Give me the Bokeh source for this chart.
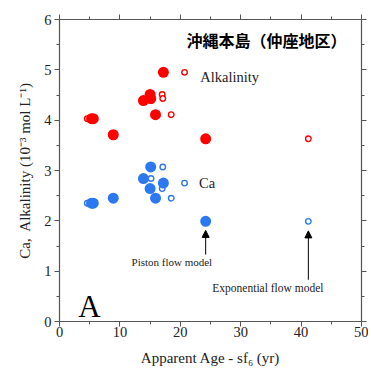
from bokeh.plotting import figure
from bokeh.models import (LinearAxis, Range1d, Arrow, NormalHead, Label, ColumnDataSource,
                          FixedTicker, CustomJSTickFormatter)
from bokeh.embed import file_html
from bokeh.resources import INLINE

# ---- data ----
piston_age = [17.2, 15.0, 15.1, 13.9, 15.9, 5.6, 5.3, 8.9, 24.2]
expo_age = [20.7, 17.0, 17.1, 15.15, 18.5, 4.6, 5.3, 8.9, 41.2]
ca = [2.75, 2.64, 3.07, 2.84, 2.45, 2.35, 2.35, 2.45, 1.99]
alk = [4.95, 4.51, 4.43, 4.39, 4.11, 4.03, 4.03, 3.71, 3.63]

x_ticks = [0, 10, 20, 30, 40, 50]
x_minor = [5, 15, 25, 35, 45]
y_ticks = [0, 1, 2, 3, 4, 5, 6]
y_minor = [0.5, 1.5, 2.5, 3.5, 4.5, 5.5]

RED = "#ff0000"
BLUE = "#2b78f0"
SERIF = "Liberation Serif"
AX = "#555555"

p = figure(width=368, height=368, output_backend="svg", toolbar_location=None,
           x_range=Range1d(0, 50), y_range=Range1d(0, 6),
           min_border_left=59, min_border_right=7, min_border_top=19, min_border_bottom=47)
p.outline_line_color = None
p.grid.visible = False


def style_axis(ax):
    ax.axis_line_color = AX
    ax.axis_line_width = 1.2
    ax.major_tick_line_color = AX
    ax.minor_tick_line_color = AX
    ax.major_tick_in = 0
    ax.major_tick_out = 5
    ax.minor_tick_in = 0
    ax.minor_tick_out = 3
    ax.major_label_text_font = SERIF
    ax.major_label_text_font_size = "14.5px"
    ax.major_label_text_color = "#222222"
    ax.axis_label_text_font = SERIF
    ax.axis_label_text_font_style = "normal"
    ax.axis_label_text_font_size = "15px"
    ax.axis_label_text_color = "#222222"


xa = p.xaxis[0]
ya = p.yaxis[0]
xa.ticker = FixedTicker(ticks=x_ticks, minor_ticks=x_minor)
ya.ticker = FixedTicker(ticks=y_ticks, minor_ticks=y_minor)
style_axis(xa)
style_axis(ya)
xa.axis_label = "Apparent Age - sf\u2086 (yr)"
ya.axis_label = "Ca,\u00a0 Alkalinity (10\u207b\u00b3 mol L\u207b\u00b9)"
xa.major_label_standoff = 0
ya.major_label_standoff = 3
xa.axis_label_standoff = 10
ya.axis_label_standoff = 8

blank = CustomJSTickFormatter(code="return '';")
top = LinearAxis(ticker=FixedTicker(ticks=x_ticks, minor_ticks=x_minor), formatter=blank)
right = LinearAxis(ticker=FixedTicker(ticks=y_ticks, minor_ticks=y_minor), formatter=blank)
style_axis(top)
style_axis(right)
top.major_label_standoff = 0
right.major_label_standoff = 0
p.add_layout(top, "above")
p.add_layout(right, "right")

# open circles (exponential flow model) first, then filled (piston flow model)
src = ColumnDataSource(dict(pa=piston_age, ea=expo_age, ca=ca, alk=alk))
p.scatter("ea", "alk", source=src, size=5.5, fill_color="white", line_color=RED, line_width=1.4)
p.scatter("ea", "ca", source=src, size=5.5, fill_color="white", line_color=BLUE, line_width=1.4)
p.scatter("pa", "alk", source=src, size=11, fill_color=RED, line_color=RED, line_width=0)
p.scatter("pa", "ca", source=src, size=11, fill_color=BLUE, line_color=BLUE, line_width=0)

# texts
p.add_layout(Label(x=47.5, y=5.59, text="沖縄本島（仲座地区）", text_font="Noto Sans CJK JP",
                   text_font_style="bold", text_font_size="16px", text_align="right",
                   text_baseline="middle", text_color="black"))
p.add_layout(Label(x=23.3, y=4.85, text="Alkalinity", text_font=SERIF, text_font_size="14.5px",
                   text_baseline="middle", text_color="#222222"))
p.add_layout(Label(x=23.1, y=2.75, text="Ca", text_font=SERIF, text_font_size="14.5px",
                   text_baseline="middle", text_color="#222222"))
p.add_layout(Label(x=3.1, y=0.29, text="A", text_font=SERIF, text_font_size="31px",
                   text_baseline="alphabetic", text_color="black"))
p.add_layout(Label(x=18.6, y=1.19, text="Piston flow model", text_font=SERIF, text_font_size="11px",
                   text_align="center", text_baseline="middle", text_color="#222222"))
p.add_layout(Label(x=34.5, y=0.67, text="Exponential flow model", text_font=SERIF, text_font_size="11.5px",
                   text_align="center", text_baseline="middle", text_color="#222222"))

# arrows pointing at the oldest sample (piston and exponential ages)
p.add_layout(Arrow(end=NormalHead(size=7, fill_color="black", line_color="black"),
                   x_start=piston_age[8], y_start=1.33, x_end=piston_age[8], y_end=1.81,
                   line_color="black", line_width=1))
p.add_layout(Arrow(end=NormalHead(size=7, fill_color="black", line_color="black"),
                   x_start=expo_age[8], y_start=0.83, x_end=expo_age[8], y_end=1.80,
                   line_color="black", line_width=1))

open("out.html", "w").write(file_html(p, INLINE))
